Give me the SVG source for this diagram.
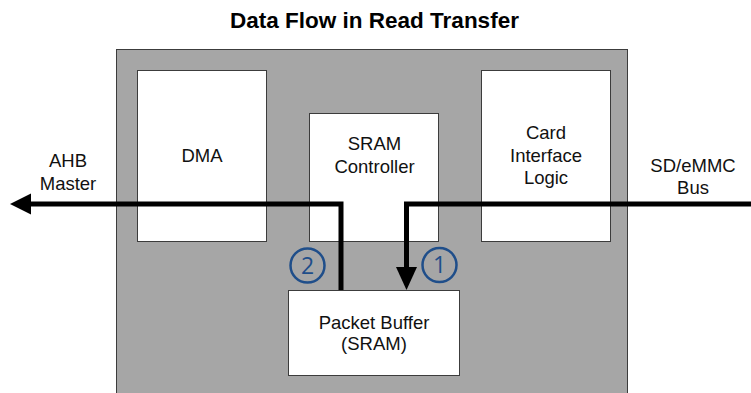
<svg xmlns="http://www.w3.org/2000/svg" width="751" height="393" viewBox="0 0 751 393">
  <defs>
    <style>
      .lbl { font-family: "Liberation Sans", Arial, sans-serif; font-size: 18.5px; fill: #111; text-anchor: middle; }
      .title { font-family: "Liberation Sans", Arial, sans-serif; font-size: 22.5px; font-weight: bold; fill: #000; text-anchor: middle; }
      .block { fill: #ffffff; stroke: #3c3c3c; stroke-width: 1; }
      .flow { fill: none; stroke: #000; stroke-width: 5; stroke-linejoin: miter; }
      .step circle { fill: none; stroke: #1f4e8a; stroke-width: 2.5; }
      .step text { font-family: "Open Sans", "Liberation Sans", sans-serif; font-size: 23px; fill: #1f4e8a; text-anchor: middle; }
    </style>
  </defs>

  <rect width="751" height="393" fill="#ffffff"/>

  <text class="title" x="374.5" y="28">Data Flow in Read Transfer</text>

  <!-- controller enclosure -->
  <g id="controller">
    <rect x="116.5" y="49.5" width="511" height="350" fill="#a6a6a6" stroke="#3c3c3c" stroke-width="1"/>
  </g>

  <g id="dma">
    <rect class="block" x="137.5" y="70.5" width="129" height="171"/>
    <text class="lbl" x="202" y="162">DMA</text>
  </g>

  <g id="sram-controller">
    <rect class="block" x="309.5" y="113.5" width="129" height="128"/>
    <text class="lbl" x="374.5" y="149.5">SRAM</text>
    <text class="lbl" x="374.5" y="172.5">Controller</text>
  </g>

  <g id="card-interface">
    <rect class="block" x="481.5" y="70.5" width="129" height="171"/>
    <text class="lbl" x="546" y="139">Card</text>
    <text class="lbl" x="546" y="161.5">Interface</text>
    <text class="lbl" x="546" y="184">Logic</text>
  </g>

  <g id="packet-buffer">
    <rect class="block" x="288.5" y="290.5" width="171" height="85"/>
    <text class="lbl" x="374" y="329">Packet Buffer</text>
    <text class="lbl" x="374" y="350">(SRAM)</text>
  </g>

  <g id="ahb-master">
    <text class="lbl" x="68" y="167">AHB</text>
    <text class="lbl" x="68" y="190">Master</text>
  </g>

  <g id="sd-bus">
    <text class="lbl" x="693" y="171.5">SD/eMMC</text>
    <text class="lbl" x="693" y="194">Bus</text>
  </g>

  <!-- data paths -->
  <g id="connectors">
    <!-- step 1: SD/eMMC bus into the packet buffer -->
    <path class="flow" d="M751 204 H406.5 V268"/>
    <polygon points="396,267 417,267 406.5,290" fill="#000"/>
    <!-- step 2: packet buffer out to the AHB master -->
    <path class="flow" d="M341 290 V204 H30"/>
    <polygon points="31,193.5 31,214.5 10,204" fill="#000"/>
  </g>

  <g id="step-1" class="step">
    <circle cx="439.5" cy="265" r="17"/>
    <text x="439.5" y="273">1</text>
  </g>
  <g id="step-2" class="step">
    <circle cx="307.5" cy="265.5" r="17"/>
    <text x="307.5" y="273.5">2</text>
  </g>
</svg>
